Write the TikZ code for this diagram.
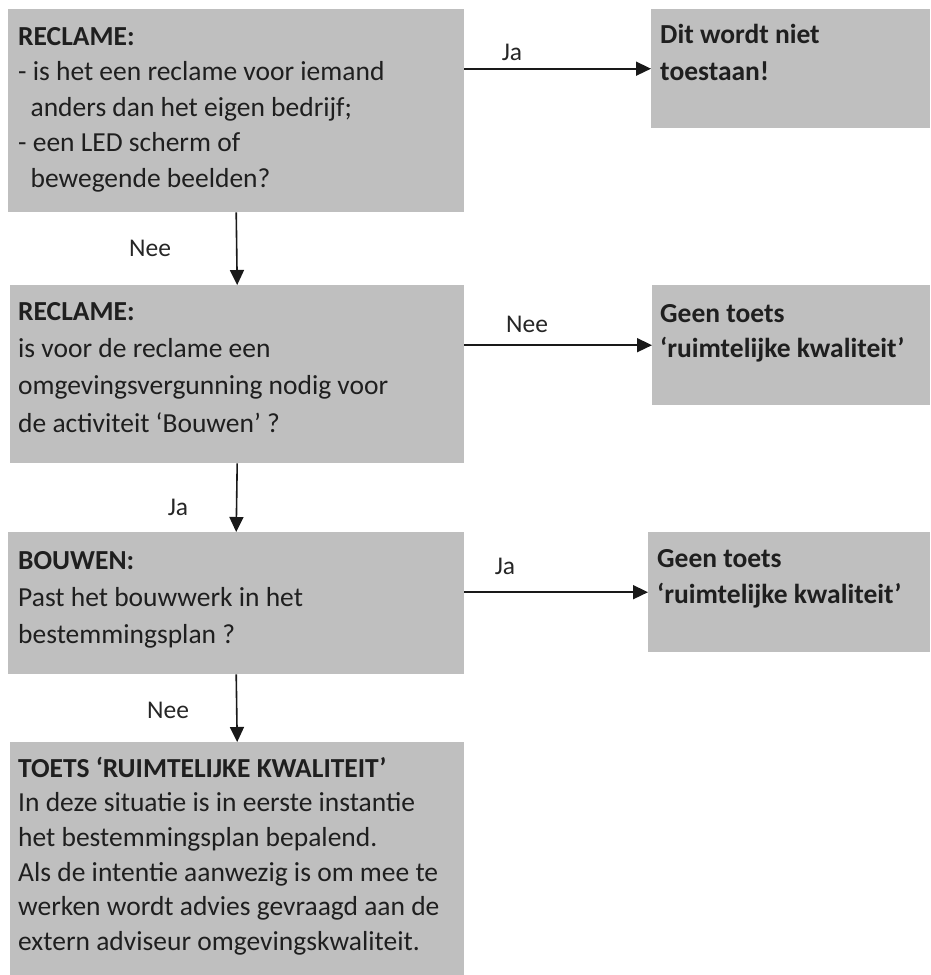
\documentclass[tikz,border=0pt]{standalone}
\usepackage{fontspec}
\setmainfont{Carlito}
\usetikzlibrary{arrows.meta}
\definecolor{boxgray}{RGB}{191,191,191}
\definecolor{linegray}{RGB}{25,25,25}
\tikzset{
  box/.style={fill=boxgray, draw=none, rectangle, anchor=north west, inner sep=0pt},
  boxtext/.style={anchor=north west, inner sep=0pt, align=left, font=\fontsize{27.5}{35.5}\selectfont, text=black!88},
  lbl/.style={anchor=base, inner sep=1pt, fill=white, font=\fontsize{25.5}{30}\selectfont, text=black!85},
  conn/.style={draw=linegray, line width=1.6pt, -{Triangle[length=15pt,width=14pt]}}
}
\newcommand{\bx}[5]{\node[box, minimum width=#4pt-#2pt, minimum height=#5pt-#3pt] (#1) at (#2,#3) {};}
\begin{document}
\begin{tikzpicture}[x=1pt,y=-1pt]
\useasboundingbox (0,0) rectangle (930,975);
% boxes
\bx{b1}{8}{9}{464}{212}
\bx{r1}{651}{9}{930}{128}
\bx{b2}{10}{285}{464}{463}
\bx{r2}{652}{285}{930}{405}
\bx{b3}{8}{532}{464}{674}
\bx{r3}{648}{532}{930}{652}
\bx{b4}{10}{742}{464}{975}
% texts
\node[boxtext] (t1) at (18,20.2) {\strut\textbf{RECLAME:}\\- is het een reclame voor iemand\\\ \ anders dan het eigen bedrijf;\\- een LED scherm of\\\ \ bewegende beelden?};
\node[boxtext, font=\fontsize{27.5}{37}\selectfont] (u1) at (660,17.1) {\strut\textbf{Dit wordt niet}\\\textbf{toestaan!}};
\node[boxtext, font=\fontsize{27.5}{37.3}\selectfont] (t2) at (18,293.9) {\strut\textbf{RECLAME:}\\is voor de reclame een\\omgevingsvergunning nodig voor\\de activiteit ‘Bouwen’ ?};
\node[boxtext, font=\fontsize{27.5}{35.5}\selectfont] (u2) at (660,297.2) {\strut\textbf{Geen toets}\\\textbf{‘ruimtelijke kwaliteit’}};
\node[boxtext, font=\fontsize{27.5}{37}\selectfont] (t3) at (18,543.1) {\strut\textbf{BOUWEN:}\\Past het bouwwerk in het\\bestemmingsplan ?};
\node[boxtext, font=\fontsize{27.5}{36}\selectfont] (u3) at (657,541.8) {\strut\textbf{Geen toets}\\\textbf{‘ruimtelijke kwaliteit’}};
\node[boxtext, font=\fontsize{27.5}{34.6}\selectfont] (t4) at (18,752.8) {\strut\textbf{TOETS ‘RUIMTELIJKE KWALITEIT’}\\In deze situatie is in eerste instantie\\het bestemmingsplan bepalend.\\Als de intentie aanwezig is om mee te\\werken wordt advies gevraagd aan de\\extern adviseur omgevingskwaliteit.};
% connectors
\draw[conn] (r1.west -| b1.east) -- (r1.west);
\draw[conn] (r2.west -| b2.east) -- (r2.west);
\draw[conn] (r3.west -| b3.east) -- (r3.west);
\draw[conn] (b1.south) -- (b2.north);
\draw[conn] (b2.south) -- (b3.north);
\draw[conn] (b3.south) -- (b4.north);
% labels
\node[lbl] (l1) at (512,60) {Ja};
\node[lbl] (l2) at (527,332) {Nee};
\node[lbl] (l3) at (505,574) {Ja};
\node[lbl] (l4) at (150,256) {Nee};
\node[lbl] (l5) at (178,515) {Ja};
\node[lbl] (l6) at (168,718) {Nee};
\end{tikzpicture}
\end{document}
